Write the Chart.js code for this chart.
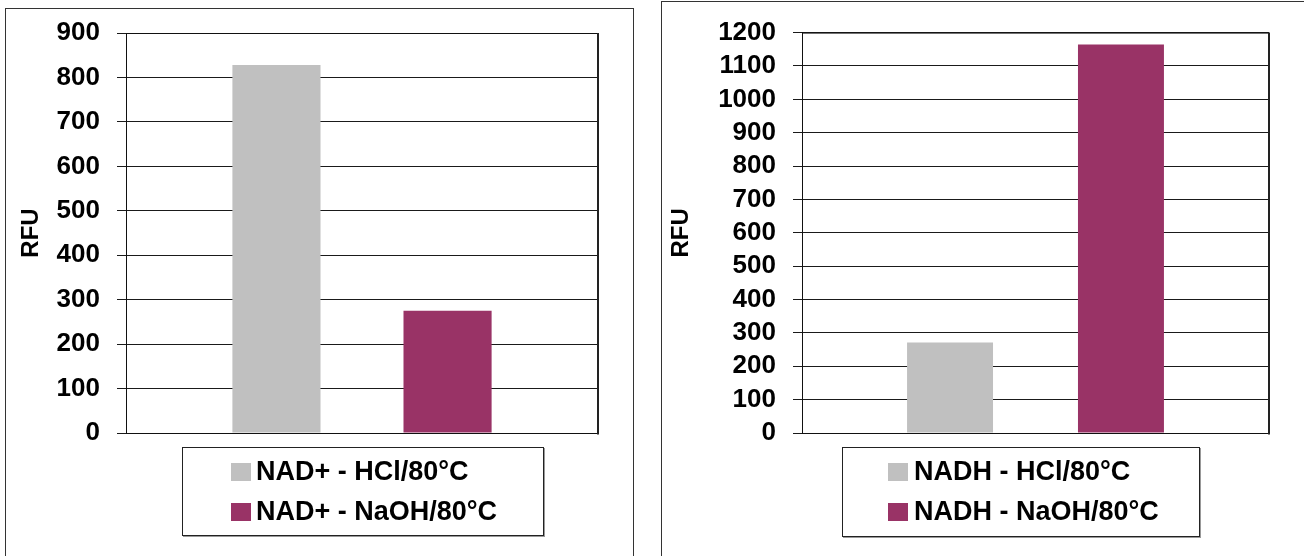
<!DOCTYPE html>
<html>
<head>
<meta charset="utf-8">
<script src="https://cdn.jsdelivr.net/npm/chart.js@4/dist/chart.umd.min.js"></script>
<style>
  html, body { margin: 0; padding: 0; background: #fff; }
  body { width: 1304px; height: 556px; position: relative; overflow: hidden;
         font-family: "Liberation Sans", Arial, sans-serif; }
  .frame { position: absolute; border: 1.5px solid #333; box-sizing: border-box; }
  canvas { position: absolute; top: 0; }
  .legend { position: absolute; border: 1px solid #222; box-sizing: border-box;
            box-shadow: 1px 1px 0 #999; background: #fff; padding-top: 3px; }
  .legend .row { height: 40px; line-height: 40px; white-space: nowrap;
                 font-size: 27px; font-weight: bold; color: #000; }
  .legend .sw { display: inline-block; width: 20px; height: 18px; vertical-align: -1px; }
</style>
</head>
<body>
<div class="frame" style="left:5px; top:8px; width:629px; height:600px;"></div>
<div class="frame" style="left:661px; top:1px; width:700px; height:600px;"></div>
<canvas id="leftChart" width="640" height="556" style="left:0px;"></canvas>
<canvas id="rightChart" width="644" height="556" style="left:660px;"></canvas>
<div id="leftLegend" class="legend" style="left:182px; top:447px; width:362px; height:89px;"></div>
<div id="rightLegend" class="legend" style="left:842px; top:447px; width:358px; height:90px;"></div>

<script>
// Category (one group per panel) and series values, RFU
const nadCategories = ['NAD+'];
const nadSeriesLabels = ['NAD+ - HCl/80°C', 'NAD+ - NaOH/80°C'];
const nadHclValues = [828];
const nadNaohValues = [275];

const nadhCategories = ['NADH'];
const nadhSeriesLabels = ['NADH - HCl/80°C', 'NADH - NaOH/80°C'];
const nadhHclValues = [271];
const nadhNaohValues = [1164];

const leftAxisMax = 900;
const rightAxisMax = 1200;
const axisStep = 100;

const hclColor = '#C0C0C0';
const naohColor = '#993366';
const fontFamily = '"Liberation Sans", Arial, sans-serif';

// Frame around the plotting area
const plotBorder = {
  id: 'plotBorder',
  afterDatasetsDraw(chart) {
    const { ctx, chartArea: a } = chart;
    ctx.save();
    ctx.strokeStyle = '#111';
    ctx.lineWidth = 1;
    ctx.beginPath();
    ctx.moveTo(a.left + 0.5, a.top + 0.5);
    ctx.lineTo(a.right, a.top + 0.5);
    ctx.moveTo(a.left + 0.5, a.bottom + 0.5);
    ctx.lineTo(a.right, a.bottom + 0.5);
    ctx.moveTo(a.left + 0.5, a.top);
    ctx.lineTo(a.left + 0.5, a.bottom + 1);
    ctx.stroke();
    ctx.lineWidth = 2;
    ctx.strokeStyle = '#222';
    ctx.beginPath();
    ctx.moveTo(a.right, a.top);
    ctx.lineTo(a.right, a.bottom + 1.5);
    ctx.stroke();
    ctx.restore();
  }
};

function makeChart(canvasId, categories, labels, hcl, naoh, max, padding, scaleWidth, titlePad, catPct, barPct) {
  return new Chart(document.getElementById(canvasId), {
    type: 'bar',
    data: {
      labels: categories,
      datasets: [
        { label: labels[0], data: hcl, backgroundColor: hclColor, borderWidth: 0 },
        { label: labels[1], data: naoh, backgroundColor: naohColor, borderWidth: 0 }
      ]
    },
    options: {
      responsive: false,
      animation: false,
      events: [],
      datasets: { bar: { categoryPercentage: catPct, barPercentage: barPct } },
      layout: { padding: padding },
      plugins: { legend: { display: false }, tooltip: { enabled: false } },
      scales: {
        x: { display: false },
        y: {
          min: 0,
          max: max,
          ticks: {
            stepSize: axisStep,
            autoSkip: false,
            color: '#000',
            padding: 17,
            font: { family: fontFamily, size: 26, weight: 'bold' },
            callback: v => String(v)
          },
          grid: { color: '#1a1a1a', lineWidth: 1, tickLength: 9, drawTicks: true },
          border: { display: true, color: '#111', width: 1 },
          title: {
            display: true,
            text: 'RFU',
            color: '#000',
            font: { family: fontFamily, size: 24, weight: 'bold' },
            padding: { top: titlePad, bottom: 0 }
          },
          afterFit(scale) { scale.width = scaleWidth; }
        }
      }
    },
    plugins: [plotBorder]
  });
}

function buildLegend(chart, elId, indent, gap) {
  const box = document.getElementById(elId);
  chart.data.datasets.forEach(ds => {
    const row = document.createElement('div');
    row.className = 'row';
    const sw = document.createElement('span');
    sw.className = 'sw';
    sw.style.background = ds.backgroundColor;
    sw.style.marginLeft = indent + 'px';
    sw.style.marginRight = gap + 'px';
    row.appendChild(sw);
    row.appendChild(document.createTextNode(ds.label));
    box.appendChild(row);
  });
}

const leftChart = makeChart('leftChart', nadCategories, nadSeriesLabels, nadHclValues, nadNaohValues,
  leftAxisMax, { left: 0, top: 33, right: 42, bottom: 123 }, 126, 17, 0.725, 0.515);
const rightChart = makeChart('rightChart', nadhCategories, nadhSeriesLabels, nadhHclValues, nadhNaohValues,
  rightAxisMax, { left: 0, top: 26, right: 35, bottom: 123 }, 142, 7, 0.732, 0.503);

buildLegend(leftChart, 'leftLegend', 48, 5);
buildLegend(rightChart, 'rightLegend', 45, 6);
</script>
</body>
</html>
